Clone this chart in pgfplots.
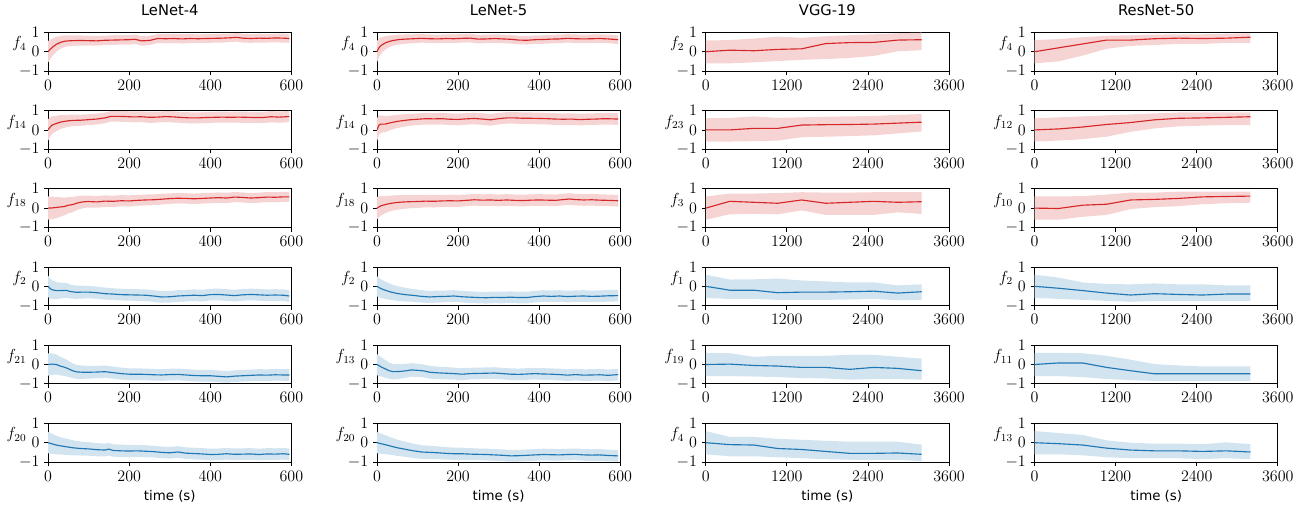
\documentclass[border=0pt]{standalone}
\usepackage{pgfplots}
\pgfplotsset{compat=1.18}
\usepackage{pgfplotstable}
\usepgfplotslibrary{groupplots,fillbetween}
\usepackage{fontspec}
\setmainfont{DejaVu Sans}
\definecolor{tred}{HTML}{D62728}
\definecolor{tblue}{HTML}{1F77B4}

% LeNet runs: t, mean, std
\pgfplotstableread{
t m s
0 0.00 0.55
5 0.12 0.50
10 0.22 0.45
20 0.38 0.38
30 0.48 0.33
40 0.54 0.30
50 0.56 0.28
60 0.57 0.27
80 0.58 0.26
100 0.57 0.25
120 0.56 0.25
140 0.59 0.24
160 0.60 0.25
180 0.61 0.24
200 0.62 0.25
215 0.64 0.24
230 0.56 0.25
250 0.58 0.24
270 0.68 0.23
290 0.67 0.24
310 0.68 0.23
330 0.66 0.24
350 0.68 0.23
370 0.67 0.22
390 0.68 0.23
410 0.69 0.22
430 0.70 0.23
450 0.72 0.22
465 0.74 0.22
480 0.70 0.23
500 0.68 0.22
520 0.70 0.23
540 0.69 0.22
560 0.71 0.22
580 0.70 0.23
595 0.68 0.22
}\tAa
\pgfplotstableread{
t m s
0 0.00 0.55
5 0.15 0.50
10 0.25 0.45
20 0.33 0.40
30 0.40 0.36
40 0.44 0.33
50 0.47 0.31
60 0.49 0.30
80 0.50 0.29
100 0.53 0.28
120 0.56 0.28
140 0.62 0.28
155 0.70 0.27
170 0.70 0.27
190 0.69 0.28
210 0.67 0.28
230 0.68 0.28
250 0.65 0.29
270 0.66 0.28
290 0.69 0.28
310 0.67 0.29
330 0.64 0.28
350 0.62 0.29
370 0.62 0.28
390 0.64 0.29
410 0.65 0.28
430 0.66 0.29
450 0.65 0.28
470 0.66 0.29
490 0.65 0.29
510 0.64 0.28
530 0.64 0.29
550 0.68 0.29
570 0.66 0.29
595 0.69 0.29
}\tAb
\pgfplotstableread{
t m s
0 0.00 0.60
10 0.01 0.58
20 0.03 0.55
30 0.06 0.50
40 0.08 0.46
50 0.15 0.42
60 0.18 0.39
70 0.25 0.36
80 0.30 0.34
90 0.33 0.32
100 0.34 0.31
120 0.32 0.30
140 0.36 0.30
160 0.35 0.29
180 0.38 0.29
200 0.37 0.29
220 0.40 0.28
240 0.42 0.28
260 0.43 0.28
280 0.46 0.28
300 0.49 0.27
320 0.51 0.27
340 0.50 0.27
360 0.48 0.27
380 0.50 0.27
400 0.52 0.27
420 0.54 0.27
440 0.52 0.27
460 0.57 0.26
480 0.55 0.26
500 0.52 0.26
520 0.54 0.26
540 0.57 0.26
560 0.56 0.26
580 0.58 0.26
595 0.58 0.26
}\tAc
\pgfplotstableread{
t m s
0 0.00 0.55
5 -0.12 0.52
10 -0.18 0.48
20 -0.22 0.44
30 -0.22 0.41
45 -0.21 0.38
55 -0.27 0.36
70 -0.31 0.34
85 -0.30 0.33
100 -0.30 0.32
120 -0.33 0.31
140 -0.38 0.31
160 -0.40 0.30
180 -0.43 0.30
200 -0.44 0.30
220 -0.45 0.30
240 -0.46 0.30
260 -0.50 0.30
280 -0.55 0.30
300 -0.54 0.30
320 -0.50 0.30
340 -0.48 0.30
360 -0.46 0.30
380 -0.48 0.30
400 -0.43 0.30
420 -0.42 0.30
440 -0.45 0.30
460 -0.48 0.30
480 -0.44 0.30
500 -0.42 0.30
520 -0.44 0.30
540 -0.46 0.30
560 -0.45 0.30
580 -0.46 0.30
595 -0.50 0.30
}\tAd
\pgfplotstableread{
t m s
0 0.00 0.58
10 0.02 0.55
20 0.00 0.52
30 -0.08 0.48
40 -0.14 0.45
50 -0.22 0.42
60 -0.32 0.38
70 -0.38 0.36
85 -0.40 0.34
100 -0.40 0.33
120 -0.39 0.32
140 -0.37 0.32
160 -0.42 0.31
180 -0.47 0.31
200 -0.50 0.30
220 -0.50 0.30
240 -0.51 0.30
260 -0.53 0.30
280 -0.54 0.30
300 -0.52 0.30
320 -0.51 0.30
340 -0.54 0.30
360 -0.57 0.30
380 -0.58 0.30
400 -0.58 0.30
420 -0.61 0.30
440 -0.64 0.30
460 -0.60 0.30
480 -0.58 0.30
500 -0.56 0.30
520 -0.54 0.30
540 -0.55 0.30
560 -0.53 0.30
580 -0.54 0.30
595 -0.54 0.30
}\tAe
\pgfplotstableread{
t m s
0 0.00 0.55
10 -0.06 0.52
20 -0.12 0.48
30 -0.16 0.45
45 -0.21 0.42
60 -0.26 0.39
80 -0.30 0.36
100 -0.32 0.35
120 -0.36 0.34
140 -0.38 0.33
150 -0.33 0.33
160 -0.40 0.32
180 -0.42 0.32
200 -0.43 0.31
220 -0.42 0.31
240 -0.44 0.31
260 -0.46 0.30
280 -0.50 0.30
300 -0.52 0.30
320 -0.48 0.30
340 -0.54 0.30
360 -0.56 0.30
380 -0.58 0.30
400 -0.61 0.30
420 -0.60 0.30
440 -0.57 0.30
460 -0.60 0.30
480 -0.59 0.30
500 -0.58 0.30
520 -0.61 0.30
540 -0.58 0.30
560 -0.59 0.30
580 -0.57 0.30
595 -0.60 0.30
}\tAf
\pgfplotstableread{
t m s
0 0.00 0.55
5 0.20 0.48
10 0.32 0.42
20 0.45 0.35
30 0.53 0.30
40 0.58 0.27
55 0.63 0.25
70 0.65 0.24
90 0.67 0.23
110 0.69 0.22
130 0.67 0.22
150 0.66 0.22
170 0.68 0.22
190 0.67 0.22
210 0.69 0.22
230 0.70 0.22
250 0.65 0.22
270 0.66 0.22
290 0.68 0.22
310 0.66 0.22
330 0.64 0.22
350 0.60 0.22
370 0.59 0.22
390 0.62 0.22
410 0.63 0.22
430 0.65 0.22
450 0.66 0.22
470 0.69 0.22
490 0.67 0.22
510 0.66 0.22
530 0.67 0.22
550 0.68 0.22
570 0.66 0.22
595 0.62 0.22
}\tBa
\pgfplotstableread{
t m s
0 0.00 0.60
5 0.25 0.50
10 0.30 0.45
20 0.30 0.42
30 0.35 0.38
45 0.42 0.35
60 0.47 0.33
80 0.52 0.31
100 0.55 0.30
120 0.58 0.30
140 0.57 0.30
160 0.58 0.30
180 0.55 0.30
200 0.54 0.30
220 0.57 0.30
240 0.59 0.30
260 0.56 0.30
280 0.52 0.30
300 0.58 0.30
320 0.62 0.30
340 0.62 0.30
360 0.60 0.30
380 0.60 0.30
400 0.59 0.30
420 0.58 0.30
440 0.56 0.30
460 0.55 0.30
480 0.56 0.30
500 0.53 0.30
520 0.55 0.30
540 0.56 0.30
560 0.58 0.30
580 0.57 0.30
595 0.56 0.30
}\tBb
\pgfplotstableread{
t m s
0 0.00 0.58
10 0.12 0.50
20 0.18 0.45
30 0.23 0.41
45 0.28 0.38
60 0.31 0.36
80 0.33 0.34
100 0.34 0.33
120 0.36 0.32
140 0.35 0.32
160 0.37 0.31
180 0.38 0.31
200 0.37 0.31
220 0.40 0.30
240 0.43 0.30
260 0.41 0.30
280 0.42 0.30
300 0.40 0.30
320 0.42 0.30
340 0.40 0.30
360 0.39 0.30
380 0.41 0.30
400 0.42 0.30
420 0.41 0.30
440 0.40 0.30
460 0.44 0.30
475 0.47 0.30
490 0.44 0.30
510 0.42 0.30
530 0.43 0.30
550 0.41 0.30
570 0.40 0.30
595 0.38 0.30
}\tBc
\pgfplotstableread{
t m s
0 0.00 0.52
10 -0.12 0.48
20 -0.20 0.45
35 -0.30 0.41
50 -0.37 0.38
70 -0.43 0.35
90 -0.47 0.33
110 -0.52 0.32
130 -0.55 0.31
150 -0.53 0.31
170 -0.52 0.30
190 -0.50 0.30
210 -0.54 0.30
230 -0.56 0.30
250 -0.58 0.30
270 -0.59 0.30
290 -0.57 0.30
310 -0.58 0.30
330 -0.56 0.30
350 -0.58 0.30
370 -0.58 0.30
390 -0.53 0.30
410 -0.50 0.30
430 -0.52 0.30
450 -0.50 0.30
470 -0.53 0.30
490 -0.51 0.30
510 -0.50 0.30
530 -0.52 0.30
550 -0.51 0.30
570 -0.49 0.30
595 -0.48 0.30
}\tBd
\pgfplotstableread{
t m s
0 0.00 0.55
10 -0.12 0.50
20 -0.22 0.46
30 -0.32 0.42
40 -0.37 0.40
55 -0.36 0.38
70 -0.33 0.36
85 -0.28 0.35
100 -0.30 0.34
115 -0.33 0.33
130 -0.40 0.33
150 -0.43 0.32
170 -0.45 0.32
190 -0.47 0.31
210 -0.50 0.31
230 -0.47 0.30
250 -0.46 0.30
270 -0.45 0.30
290 -0.44 0.30
310 -0.47 0.30
330 -0.50 0.30
350 -0.51 0.30
370 -0.49 0.30
390 -0.47 0.30
410 -0.49 0.30
430 -0.50 0.30
450 -0.52 0.30
470 -0.55 0.30
490 -0.52 0.30
510 -0.55 0.30
530 -0.54 0.30
550 -0.53 0.30
570 -0.56 0.30
595 -0.52 0.30
}\tBe
\pgfplotstableread{
t m s
0 0.00 0.55
10 -0.05 0.52
20 -0.10 0.49
35 -0.18 0.45
50 -0.26 0.42
70 -0.34 0.39
90 -0.42 0.37
110 -0.48 0.35
130 -0.50 0.34
150 -0.52 0.33
170 -0.55 0.32
190 -0.57 0.32
210 -0.57 0.31
230 -0.59 0.31
250 -0.60 0.30
270 -0.61 0.30
290 -0.63 0.30
310 -0.65 0.30
330 -0.68 0.30
350 -0.67 0.30
370 -0.65 0.30
390 -0.63 0.30
410 -0.61 0.30
430 -0.62 0.30
450 -0.63 0.30
470 -0.61 0.30
490 -0.60 0.30
510 -0.63 0.30
530 -0.64 0.30
550 -0.63 0.30
570 -0.66 0.30
595 -0.68 0.30
}\tBf

% VGG-19 / ResNet-50 runs: t, mean, lower, upper
\pgfplotstableread{
t m lo hi
0 0.00 -0.60 0.58
355 0.08 -0.60 0.60
710 0.05 -0.55 0.68
1065 0.12 -0.48 0.78
1420 0.15 -0.42 0.72
1775 0.42 -0.38 0.80
2130 0.47 -0.32 0.85
2485 0.48 -0.22 0.90
2840 0.60 0.02 0.95
3195 0.62 0.08 0.98
}\tCa
\pgfplotstableread{
t m lo hi
0 0.00 -0.60 0.60
355 0.00 -0.60 0.62
710 0.08 -0.58 0.70
1065 0.08 -0.55 0.62
1420 0.25 -0.38 0.65
1775 0.27 -0.35 0.68
2130 0.28 -0.32 0.70
2485 0.30 -0.28 0.72
2840 0.35 -0.18 0.78
3195 0.40 -0.08 0.82
}\tCb
\pgfplotstableread{
t m lo hi
0 0.00 -0.60 0.60
355 0.35 -0.32 0.75
710 0.30 -0.30 0.75
1065 0.25 -0.32 0.78
1420 0.42 -0.12 0.82
1775 0.25 -0.35 0.80
2130 0.30 -0.35 0.80
2485 0.35 -0.35 0.82
2840 0.30 -0.22 0.82
3195 0.33 -0.30 0.82
}\tCc
\pgfplotstableread{
t m lo hi
0 0.00 -0.60 0.60
355 -0.20 -0.65 0.35
710 -0.20 -0.65 0.36
1065 -0.33 -0.70 0.40
1420 -0.30 -0.70 0.30
1775 -0.30 -0.70 0.25
2130 -0.28 -0.68 0.20
2485 -0.25 -0.65 0.20
2840 -0.35 -0.72 0.05
3195 -0.28 -0.70 0.10
}\tCd
\pgfplotstableread{
t m lo hi
0 0.00 -0.60 0.60
355 0.02 -0.60 0.58
710 -0.05 -0.62 0.40
1065 -0.08 -0.65 0.45
1420 -0.15 -0.70 0.45
1775 -0.15 -0.72 0.45
2130 -0.25 -0.78 0.50
2485 -0.15 -0.75 0.50
2840 -0.20 -0.75 0.40
3195 -0.32 -0.78 0.30
}\tCe
\pgfplotstableread{
t m lo hi
0 0.00 -0.60 0.60
355 -0.10 -0.70 0.30
710 -0.12 -0.70 0.30
1065 -0.30 -0.75 0.20
1420 -0.35 -0.80 0.15
1775 -0.45 -0.85 0.10
2130 -0.55 -0.88 0.05
2485 -0.55 -0.88 0.05
2840 -0.53 -0.88 0.05
3195 -0.60 -0.95 -0.10
}\tCf
\pgfplotstableread{
t m lo hi
0 0.00 -0.60 0.60
355 0.20 -0.50 0.65
710 0.40 -0.20 0.75
1065 0.60 0.15 0.82
1420 0.60 0.30 0.85
1775 0.67 0.35 0.88
2130 0.70 0.40 0.90
2485 0.68 0.40 0.90
2840 0.70 0.45 0.93
3195 0.75 0.45 0.95
}\tDa
\pgfplotstableread{
t m lo hi
0 0.00 -0.60 0.60
355 0.05 -0.55 0.65
710 0.15 -0.48 0.70
1065 0.28 -0.35 0.75
1420 0.38 -0.10 0.80
1775 0.52 0.08 0.85
2130 0.60 0.18 0.90
2485 0.62 0.22 0.90
2840 0.65 0.25 0.90
3195 0.68 0.25 0.90
}\tDb
\pgfplotstableread{
t m lo hi
0 0.00 -0.60 0.60
355 -0.02 -0.60 0.60
710 0.15 -0.45 0.62
1065 0.20 -0.35 0.70
1420 0.42 -0.05 0.80
1775 0.45 0.05 0.80
2130 0.50 0.10 0.85
2485 0.58 0.20 0.85
2840 0.60 0.25 0.85
3195 0.62 0.28 0.85
}\tDc
\pgfplotstableread{
t m lo hi
0 0.00 -0.60 0.60
355 -0.10 -0.65 0.45
710 -0.22 -0.70 0.20
1065 -0.35 -0.75 0.12
1420 -0.45 -0.80 0.10
1775 -0.38 -0.75 0.15
2130 -0.42 -0.75 0.10
2485 -0.45 -0.75 0.10
2840 -0.40 -0.75 0.05
3195 -0.40 -0.75 0.05
}\tDd
\pgfplotstableread{
t m lo hi
0 0.00 -0.60 0.60
355 0.08 -0.60 0.60
710 0.08 -0.65 0.58
1065 -0.15 -0.75 0.45
1420 -0.32 -0.80 0.25
1775 -0.48 -0.85 0.02
2130 -0.48 -0.85 -0.05
2485 -0.48 -0.85 -0.10
2840 -0.48 -0.85 -0.10
3195 -0.48 -0.85 -0.10
}\tDe
\pgfplotstableread{
t m lo hi
0 0.00 -0.60 0.60
355 -0.05 -0.60 0.50
710 -0.12 -0.65 0.40
1065 -0.28 -0.75 0.12
1420 -0.38 -0.80 0.00
1775 -0.42 -0.80 -0.05
2130 -0.42 -0.80 -0.05
2485 -0.45 -0.85 -0.08
2840 -0.42 -0.80 0.02
3195 -0.48 -0.85 -0.08
}\tDf

\newcommand{\runS}[2]{%
  \addplot[draw=none, name path=U] table[x=t, y expr=\thisrow{m}+\thisrow{s}] {#1};
  \addplot[draw=none, name path=L] table[x=t, y expr=\thisrow{m}-\thisrow{s}] {#1};
  \addplot[fill=#2!20, draw=none] fill between[of=U and L];
  \addplot[#2, line width=0.85pt] table[x=t, y=m] {#1};
}
\newcommand{\runLH}[2]{%
  \addplot[draw=none, name path=U] table[x=t, y=hi] {#1};
  \addplot[draw=none, name path=L] table[x=t, y=lo] {#1};
  \addplot[fill=#2!20, draw=none] fill between[of=U and L];
  \addplot[#2, line width=0.85pt] table[x=t, y=m] {#1};
}

\begin{document}
\begin{tikzpicture}
\begin{groupplot}[
  group style={group size=4 by 6, horizontal sep=64pt, vertical sep=29.5pt},
  width=182pt, height=29pt, scale only axis,
  ymin=-1, ymax=1, ytick={-1,0,1}, xmin=0,
  axis line style={line width=0.6pt},
  tick align=outside, xtick pos=left, ytick pos=left,
  major tick length=3pt, tick style={black, line width=0.6pt},
  tick label style={font=\fontsize{11.5}{14}\selectfont},
  /pgf/number format/1000 sep={},
  title style={font=\fontsize{11}{13}\selectfont, yshift=3pt},
  xlabel style={font=\fontsize{10}{12}\selectfont},
  every axis y label/.style={at={(rel axis cs:0,0.7)}, anchor=east, inner sep=0pt,
    xshift=-16pt, font=\fontsize{12}{14}\selectfont},
  lenet/.style={xmax=600, xtick={0,200,400,600}},
  deep/.style={xmax=3600, xtick={0,1200,2400,3600}},
]
% row 1
\nextgroupplot[lenet, title={LeNet-4}, ylabel={$f_4$}]
\runS{\tAa}{tred}
\nextgroupplot[lenet, title={LeNet-5}, ylabel={$f_4$}]
\runS{\tBa}{tred}
\nextgroupplot[deep, title={VGG-19}, ylabel={$f_2$}]
\runLH{\tCa}{tred}
\nextgroupplot[deep, title={ResNet-50}, ylabel={$f_4$}]
\runLH{\tDa}{tred}
% row 2
\nextgroupplot[lenet, ylabel={$f_{14}$}]
\runS{\tAb}{tred}
\nextgroupplot[lenet, ylabel={$f_{14}$}]
\runS{\tBb}{tred}
\nextgroupplot[deep, ylabel={$f_{23}$}]
\runLH{\tCb}{tred}
\nextgroupplot[deep, ylabel={$f_{12}$}]
\runLH{\tDb}{tred}
% row 3
\nextgroupplot[lenet, ylabel={$f_{18}$}]
\runS{\tAc}{tred}
\nextgroupplot[lenet, ylabel={$f_{18}$}]
\runS{\tBc}{tred}
\nextgroupplot[deep, ylabel={$f_3$}]
\runLH{\tCc}{tred}
\nextgroupplot[deep, ylabel={$f_{10}$}]
\runLH{\tDc}{tred}
% row 4
\nextgroupplot[lenet, ylabel={$f_2$}]
\runS{\tAd}{tblue}
\nextgroupplot[lenet, ylabel={$f_2$}]
\runS{\tBd}{tblue}
\nextgroupplot[deep, ylabel={$f_1$}]
\runLH{\tCd}{tblue}
\nextgroupplot[deep, ylabel={$f_2$}]
\runLH{\tDd}{tblue}
% row 5
\nextgroupplot[lenet, ylabel={$f_{21}$}]
\runS{\tAe}{tblue}
\nextgroupplot[lenet, ylabel={$f_{13}$}]
\runS{\tBe}{tblue}
\nextgroupplot[deep, ylabel={$f_{19}$}]
\runLH{\tCe}{tblue}
\nextgroupplot[deep, ylabel={$f_{11}$}]
\runLH{\tDe}{tblue}
% row 6
\nextgroupplot[lenet, ylabel={$f_{20}$}, xlabel={time (s)}]
\runS{\tAf}{tblue}
\nextgroupplot[lenet, ylabel={$f_{20}$}, xlabel={time (s)}]
\runS{\tBf}{tblue}
\nextgroupplot[deep, ylabel={$f_4$}, xlabel={time (s)}]
\runLH{\tCf}{tblue}
\nextgroupplot[deep, ylabel={$f_{13}$}, xlabel={time (s)}]
\runLH{\tDf}{tblue}
\end{groupplot}
% white margin on the left, as in the original figure
\path ([xshift=-36pt]group c1r1.north west);
\end{tikzpicture}
\end{document}
